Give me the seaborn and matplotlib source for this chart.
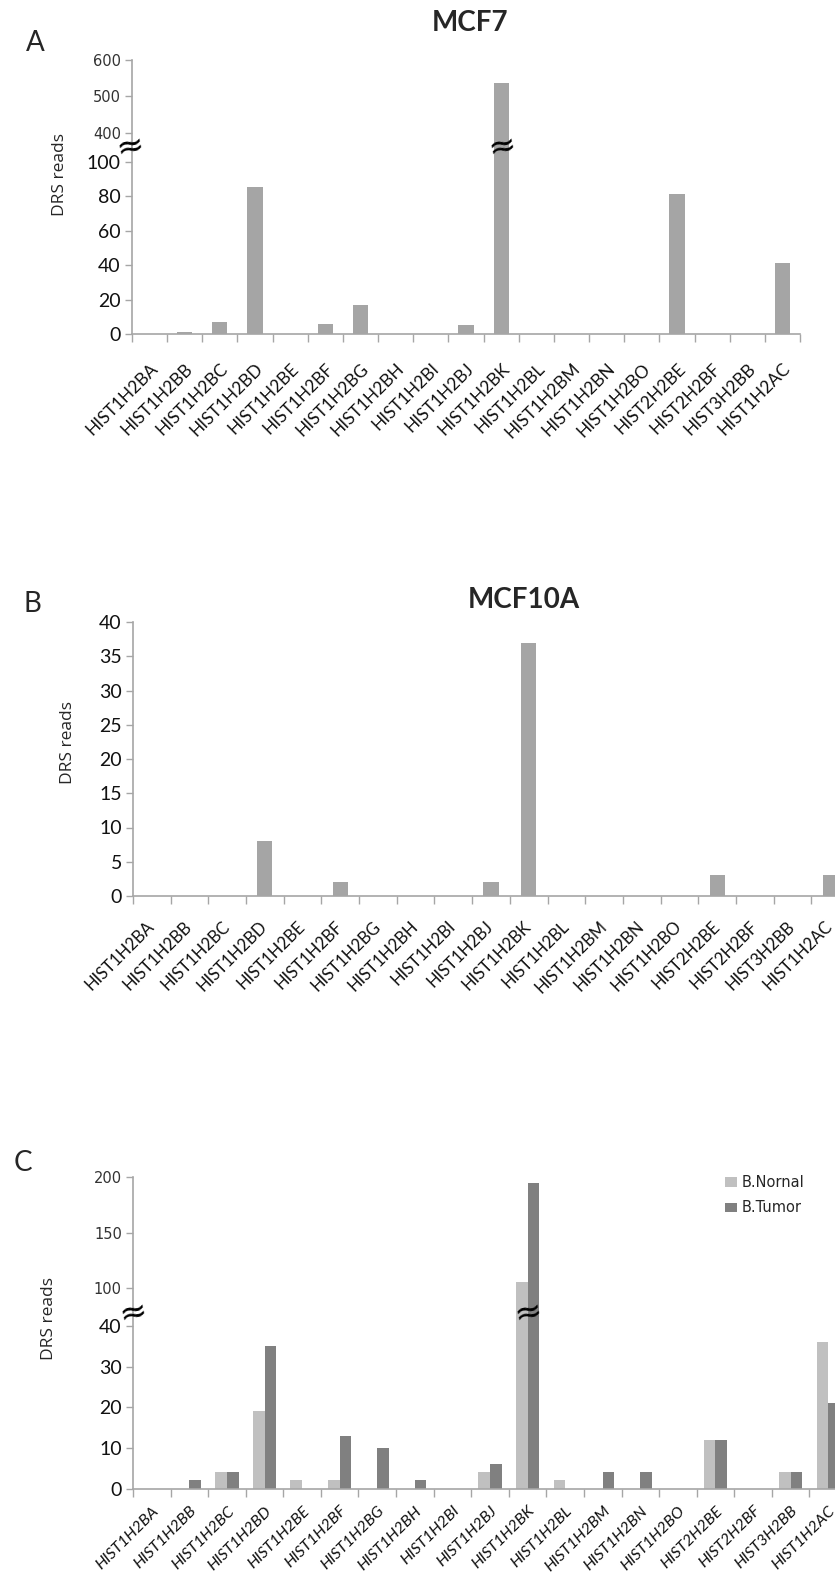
import matplotlib
matplotlib.use("Agg")
import matplotlib.pyplot as plt
import seaborn as sns
import pandas as pd
from matplotlib.patches import Patch
from matplotlib.ticker import FixedLocator

genes = ["HIST1H2BA", "HIST1H2BB", "HIST1H2BC", "HIST1H2BD", "HIST1H2BE",
         "HIST1H2BF", "HIST1H2BG", "HIST1H2BH", "HIST1H2BI", "HIST1H2BJ",
         "HIST1H2BK", "HIST1H2BL", "HIST1H2BM", "HIST1H2BN", "HIST1H2BO",
         "HIST2H2BE", "HIST2H2BF", "HIST3H2BB", "HIST1H2AC"]
mcf7 = [0, 1, 7, 85, 0, 6, 17, 0, 0, 5, 537, 0, 0, 0, 0, 81, 0, 0, 41]
mcf10a = [0, 0, 0, 8, 0, 2, 0, 0, 0, 2, 37, 0, 0, 0, 0, 3, 0, 0, 3]
b_normal = [0, 0, 4, 19, 2, 2, 0, 0, 0, 4, 106, 2, 0, 0, 0, 12, 0, 4, 36]
b_tumor = [0, 2, 4, 35, 0, 13, 10, 2, 0, 6, 195, 0, 4, 4, 0, 12, 0, 4, 21]
groups = ["B.Nornal", "B.Tumor"]

sns.set_style("white")
plt.rcParams["font.family"] = ["Lato", "DejaVu Sans"]

W, H = 835, 1582
fig = plt.figure(figsize=(W / 100, H / 100), dpi=100)
grey_axis = "#a6a6a6"
bar_grey = "#a5a5a5"


def axes_px(left, top, right, bottom):
    return fig.add_axes([left / W, 1 - bottom / H, (right - left) / W, (bottom - top) / H])


def style(ax, with_bottom=True, italic=False, label_size=12.5, label_pad=19, va="top"):
    ax.set_xlim(-0.5, len(genes) - 0.5)
    ax.set_xlabel("")
    ax.set_ylabel("")
    ax.spines["top"].set_visible(False)
    ax.spines["right"].set_visible(False)
    ax.spines["left"].set_color(grey_axis)
    ax.spines["left"].set_linewidth(1.2)
    ax.tick_params(axis="y", length=5, width=1, color=grey_axis, pad=3,
                   labelsize=14, labelcolor="#111111", left=True)
    if with_bottom:
        ax.spines["bottom"].set_color(grey_axis)
        ax.spines["bottom"].set_linewidth(1.2)
        ax.set_xticks(range(len(genes)))
        ax.set_xticklabels(genes, rotation=45, ha="right", va=va, rotation_mode="anchor",
                           fontsize=label_size, color="#111111",
                           style="italic" if italic else "normal")
        ax.xaxis.set_minor_locator(FixedLocator([i - 0.5 for i in range(len(genes) + 1)]))
        ax.tick_params(axis="x", which="major", length=0, pad=label_pad)
        ax.tick_params(axis="x", which="minor", length=6, width=1, color=grey_axis, bottom=True)
    else:
        ax.spines["bottom"].set_visible(False)
        ax.set_xticks([])


def upper_ticks(ax, ticks):
    ax.set_yticks(ticks)
    ax.set_yticklabels([str(t) for t in ticks], fontfamily="DejaVu Sans", fontsize=10.5,
                       color="#333333")


def brk(x, y):
    fig.text(x / W, 1 - y / H, "\u2248", fontsize=24, ha="center", va="center",
             rotation=12, family="DejaVu Sans", color="black")


# ---- Panel A : MCF7 (broken axis)
df_a = pd.DataFrame({"gene": genes, "reads": mcf7})
ax_top = axes_px(132, 60, 800, 146)
ax_bot = axes_px(132, 146, 800, 334)
for ax in (ax_top, ax_bot):
    sns.barplot(data=df_a, x="gene", y="reads", ax=ax, color=bar_grey, width=0.43,
                errorbar=None, linewidth=0, saturation=1)
ax_top.set_ylim(364, 600)
ax_bot.set_ylim(0, 109)
style(ax_top, with_bottom=False)
style(ax_bot)
upper_ticks(ax_top, [400, 500, 600])
ax_bot.set_yticks([0, 20, 40, 60, 80, 100])
brk(130, 146)
brk(502, 146)
fig.text(35 / W, 1 - 43 / H, "A", fontsize=20, ha="center", va="center")
fig.text(470 / W, 1 - 23 / H, "MCF7", fontsize=20, fontweight="bold", ha="center", va="center")
fig.text(60 / W, 1 - 175 / H, "DRS reads", fontsize=12.5, rotation=90, ha="center", va="center",
         family="Open Sans")

# ---- Panel B : MCF10A
df_b = pd.DataFrame({"gene": genes, "reads": mcf10a})
ax_b = axes_px(133, 622, 849, 896)
sns.barplot(data=df_b, x="gene", y="reads", ax=ax_b, color=bar_grey, width=0.4,
            errorbar=None, linewidth=0, saturation=1)
ax_b.set_ylim(0, 40)
style(ax_b, label_size=12, label_pad=20, va="center")
ax_b.set_yticks(range(0, 41, 5))
fig.text(32 / W, 1 - 604 / H, "B", fontsize=20, ha="center", va="center")
fig.text(524 / W, 1 - 600 / H, "MCF10A", fontsize=20, fontweight="bold", ha="center", va="center")
fig.text(68 / W, 1 - 743 / H, "DRS reads", fontsize=12.5, rotation=90, ha="center", va="center",
         family="Open Sans")

# ---- Panel C : breast normal vs tumor (broken axis)
df_c = pd.DataFrame({
    "gene": genes * 2,
    "reads": b_normal + b_tumor,
    "group": [groups[0]] * len(genes) + [groups[1]] * len(genes),
})
pal = {groups[0]: "#c0c0c0", groups[1]: "#808080"}
cx_top = axes_px(133, 1177, 847, 1310)
cx_bot = axes_px(133, 1310, 847, 1488.5)
for ax in (cx_top, cx_bot):
    sns.barplot(data=df_c, x="gene", y="reads", hue="group", ax=ax, palette=pal,
                width=0.62, errorbar=None, linewidth=0, saturation=1, legend=False)
cx_top.set_ylim(80.4, 200)
cx_bot.set_ylim(0, 43.9)
style(cx_top, with_bottom=False)
style(cx_bot, italic=True, label_size=11.5, label_pad=11)
upper_ticks(cx_top, [100, 150, 200])
cx_bot.set_yticks([0, 10, 20, 30, 40])
brk(133, 1312)
brk(528, 1312)
fig.text(23 / W, 1 - 1163 / H, "C", fontsize=20, ha="center", va="center")
fig.text(49 / W, 1 - 1318 / H, "DRS reads", fontsize=12.5, rotation=90, ha="center", va="center",
         family="Open Sans")
handles = [Patch(facecolor=pal[g], edgecolor="none", label=g) for g in groups]
fig.legend(handles=handles, loc="upper left", bbox_to_anchor=(712 / W, 1 - 1162 / H),
           frameon=False, handlelength=0.8, handleheight=0.6, handletextpad=0.3,
           labelspacing=0.7, prop={"family": "DejaVu Sans", "size": 10.5})

fig.savefig("out.png", dpi=100, facecolor="white")
